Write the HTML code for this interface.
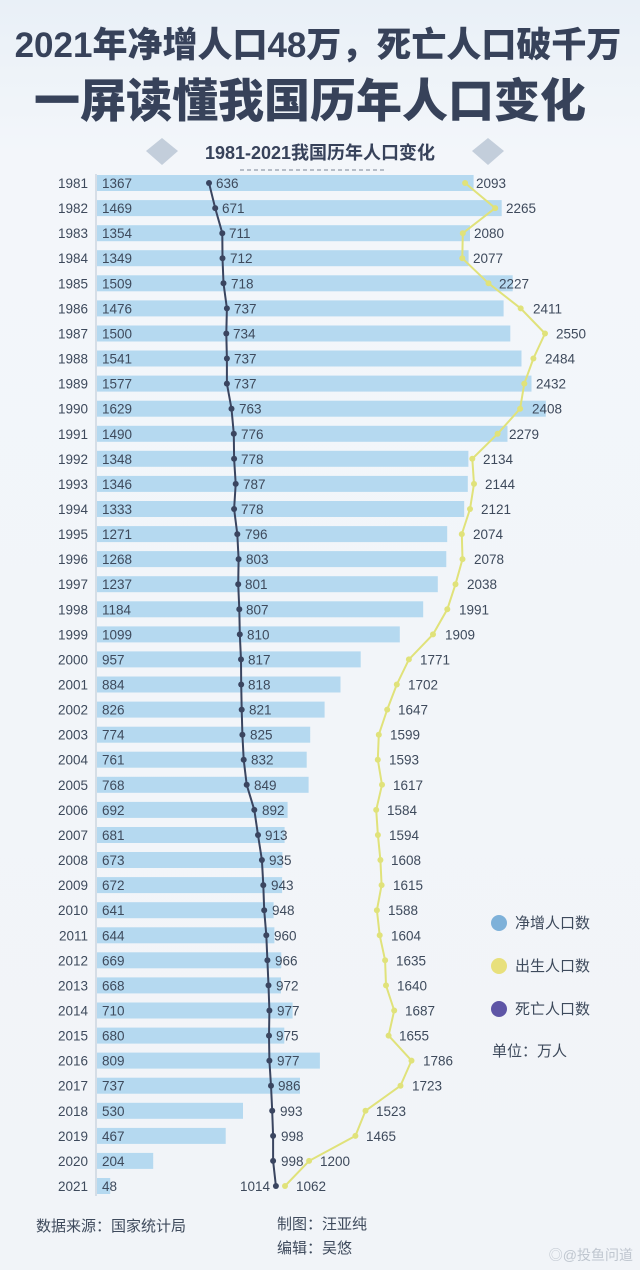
<!DOCTYPE html>
<html><head><meta charset="utf-8"><style>
html,body{margin:0;padding:0;width:640px;height:1270px;overflow:hidden;background:#eef2f7}
svg text{font-family:"Liberation Sans","Noto Sans CJK SC",sans-serif}
</style></head><body>
<svg width="640" height="1270" xmlns="http://www.w3.org/2000/svg">
<defs><linearGradient id="bg" x1="0" y1="0" x2="0" y2="1"><stop offset="0" stop-color="#e9f0f7"/><stop offset="0.12" stop-color="#f3f6fa"/><stop offset="1" stop-color="#f1f4f8"/></linearGradient></defs>
<rect width="640" height="1270" fill="url(#bg)"/>
<text x="318" y="57" text-anchor="middle" font-size="35" font-weight="900" fill="#37425a">2021年净增人口48万，死亡人口破千万</text>
<text x="310" y="117" text-anchor="middle" font-size="46" font-weight="900" fill="#37425a">一屏读懂我国历年人口变化</text>
<polygon points="162,138 178,151 162,165 146,151" fill="#c3cedb"/>
<polygon points="488,138 504,151 488,165 472,151" fill="#c3cedb"/>
<text x="320" y="159" text-anchor="middle" font-size="18" font-weight="bold" fill="#37425a">1981-2021我国历年人口变化</text>
<line x1="240" y1="170" x2="385" y2="170" stroke="#7a8494" stroke-dasharray="4,3"/>
<line x1="96" y1="174" x2="96" y2="1196" stroke="#b8c6d4"/>
<g fill="#b5d9f0">
<rect x="97" y="175" width="376.6" height="16"/><rect x="97" y="200.1" width="404.7" height="16"/><rect x="97" y="225.2" width="373" height="16"/><rect x="97" y="250.2" width="371.6" height="16"/><rect x="97" y="275.3" width="415.7" height="16"/><rect x="97" y="300.4" width="406.6" height="16"/><rect x="97" y="325.5" width="413.3" height="16"/><rect x="97" y="350.5" width="424.5" height="16"/><rect x="97" y="375.6" width="434.5" height="16"/><rect x="97" y="400.7" width="448.8" height="16"/><rect x="97" y="425.8" width="410.5" height="16"/><rect x="97" y="450.8" width="371.4" height="16"/><rect x="97" y="475.9" width="370.8" height="16"/><rect x="97" y="501" width="367.2" height="16"/><rect x="97" y="526.1" width="350.2" height="16"/><rect x="97" y="551.1" width="349.3" height="16"/><rect x="97" y="576.2" width="340.8" height="16"/><rect x="97" y="601.3" width="326.2" height="16"/><rect x="97" y="626.4" width="302.8" height="16"/><rect x="97" y="651.4" width="263.7" height="16"/><rect x="97" y="676.5" width="243.5" height="16"/><rect x="97" y="701.6" width="227.6" height="16"/><rect x="97" y="726.7" width="213.2" height="16"/><rect x="97" y="751.7" width="209.7" height="16"/><rect x="97" y="776.8" width="211.6" height="16"/><rect x="97" y="801.9" width="190.6" height="16"/><rect x="97" y="827" width="187.6" height="16"/><rect x="97" y="852" width="185.4" height="16"/><rect x="97" y="877.1" width="185.1" height="16"/><rect x="97" y="902.2" width="176.6" height="16"/><rect x="97" y="927.3" width="177.4" height="16"/><rect x="97" y="952.3" width="184.3" height="16"/><rect x="97" y="977.4" width="184" height="16"/><rect x="97" y="1002.5" width="195.6" height="16"/><rect x="97" y="1027.6" width="187.3" height="16"/><rect x="97" y="1052.6" width="222.9" height="16"/><rect x="97" y="1077.7" width="203" height="16"/><rect x="97" y="1102.8" width="146" height="16"/><rect x="97" y="1127.9" width="128.7" height="16"/><rect x="97" y="1152.9" width="56.2" height="16"/><rect x="97" y="1178" width="13.2" height="16"/>
</g>
<g font-size="13.5" fill="#3e4a5c" text-anchor="end">
<text x="88" y="188">1981</text><text x="88" y="213.1">1982</text><text x="88" y="238.2">1983</text><text x="88" y="263.2">1984</text><text x="88" y="288.3">1985</text><text x="88" y="313.4">1986</text><text x="88" y="338.5">1987</text><text x="88" y="363.5">1988</text><text x="88" y="388.6">1989</text><text x="88" y="413.7">1990</text><text x="88" y="438.8">1991</text><text x="88" y="463.8">1992</text><text x="88" y="488.9">1993</text><text x="88" y="514">1994</text><text x="88" y="539.1">1995</text><text x="88" y="564.1">1996</text><text x="88" y="589.2">1997</text><text x="88" y="614.3">1998</text><text x="88" y="639.4">1999</text><text x="88" y="664.4">2000</text><text x="88" y="689.5">2001</text><text x="88" y="714.6">2002</text><text x="88" y="739.7">2003</text><text x="88" y="764.7">2004</text><text x="88" y="789.8">2005</text><text x="88" y="814.9">2006</text><text x="88" y="840">2007</text><text x="88" y="865">2008</text><text x="88" y="890.1">2009</text><text x="88" y="915.2">2010</text><text x="88" y="940.3">2011</text><text x="88" y="965.3">2012</text><text x="88" y="990.4">2013</text><text x="88" y="1015.5">2014</text><text x="88" y="1040.6">2015</text><text x="88" y="1065.6">2016</text><text x="88" y="1090.7">2017</text><text x="88" y="1115.8">2018</text><text x="88" y="1140.9">2019</text><text x="88" y="1165.9">2020</text><text x="88" y="1191">2021</text>
</g>
<g font-size="13.5" fill="#3e4a5c">
<text x="102" y="188">1367</text><text x="102" y="213.1">1469</text><text x="102" y="238.2">1354</text><text x="102" y="263.2">1349</text><text x="102" y="288.3">1509</text><text x="102" y="313.4">1476</text><text x="102" y="338.5">1500</text><text x="102" y="363.5">1541</text><text x="102" y="388.6">1577</text><text x="102" y="413.7">1629</text><text x="102" y="438.8">1490</text><text x="102" y="463.8">1348</text><text x="102" y="488.9">1346</text><text x="102" y="514">1333</text><text x="102" y="539.1">1271</text><text x="102" y="564.1">1268</text><text x="102" y="589.2">1237</text><text x="102" y="614.3">1184</text><text x="102" y="639.4">1099</text><text x="102" y="664.4">957</text><text x="102" y="689.5">884</text><text x="102" y="714.6">826</text><text x="102" y="739.7">774</text><text x="102" y="764.7">761</text><text x="102" y="789.8">768</text><text x="102" y="814.9">692</text><text x="102" y="840">681</text><text x="102" y="865">673</text><text x="102" y="890.1">672</text><text x="102" y="915.2">641</text><text x="102" y="940.3">644</text><text x="102" y="965.3">669</text><text x="102" y="990.4">668</text><text x="102" y="1015.5">710</text><text x="102" y="1040.6">680</text><text x="102" y="1065.6">809</text><text x="102" y="1090.7">737</text><text x="102" y="1115.8">530</text><text x="102" y="1140.9">467</text><text x="102" y="1165.9">204</text><text x="102" y="1191">48</text>
</g>
<polyline fill="none" stroke="#e0e27a" stroke-width="2" points="465.1,183 495.2,208.1 462.8,233.2 462.3,258.2 488.5,283.3 520.7,308.4 545,333.5 533.4,358.5 524.3,383.6 520.1,408.7 497.6,433.8 472.3,458.8 474,483.9 470,509 461.8,534.1 462.5,559.1 455.5,584.2 447.3,609.3 433,634.4 408.9,659.4 396.8,684.5 387.2,709.6 378.8,734.7 377.8,759.7 382,784.8 376.2,809.9 377.9,835 380.4,860 381.6,885.1 376.9,910.2 379.7,935.3 385.1,960.3 386,985.4 394.2,1010.5 388.6,1035.6 411.5,1060.6 400.5,1085.7 365.5,1110.8 355.4,1135.9 309.1,1160.9 285,1186"/>
<g fill="#e0e27a">
<circle cx="465.1" cy="183" r="3"/><circle cx="495.2" cy="208.1" r="3"/><circle cx="462.8" cy="233.2" r="3"/><circle cx="462.3" cy="258.2" r="3"/><circle cx="488.5" cy="283.3" r="3"/><circle cx="520.7" cy="308.4" r="3"/><circle cx="545" cy="333.5" r="3"/><circle cx="533.4" cy="358.5" r="3"/><circle cx="524.3" cy="383.6" r="3"/><circle cx="520.1" cy="408.7" r="3"/><circle cx="497.6" cy="433.8" r="3"/><circle cx="472.3" cy="458.8" r="3"/><circle cx="474" cy="483.9" r="3"/><circle cx="470" cy="509" r="3"/><circle cx="461.8" cy="534.1" r="3"/><circle cx="462.5" cy="559.1" r="3"/><circle cx="455.5" cy="584.2" r="3"/><circle cx="447.3" cy="609.3" r="3"/><circle cx="433" cy="634.4" r="3"/><circle cx="408.9" cy="659.4" r="3"/><circle cx="396.8" cy="684.5" r="3"/><circle cx="387.2" cy="709.6" r="3"/><circle cx="378.8" cy="734.7" r="3"/><circle cx="377.8" cy="759.7" r="3"/><circle cx="382" cy="784.8" r="3"/><circle cx="376.2" cy="809.9" r="3"/><circle cx="377.9" cy="835" r="3"/><circle cx="380.4" cy="860" r="3"/><circle cx="381.6" cy="885.1" r="3"/><circle cx="376.9" cy="910.2" r="3"/><circle cx="379.7" cy="935.3" r="3"/><circle cx="385.1" cy="960.3" r="3"/><circle cx="386" cy="985.4" r="3"/><circle cx="394.2" cy="1010.5" r="3"/><circle cx="388.6" cy="1035.6" r="3"/><circle cx="411.5" cy="1060.6" r="3"/><circle cx="400.5" cy="1085.7" r="3"/><circle cx="365.5" cy="1110.8" r="3"/><circle cx="355.4" cy="1135.9" r="3"/><circle cx="309.1" cy="1160.9" r="3"/><circle cx="285" cy="1186" r="3"/>
</g>
<g font-size="13.5" fill="#3e4a5c">
<text x="476" y="188">2093</text><text x="506" y="213.1">2265</text><text x="474" y="238.2">2080</text><text x="473" y="263.2">2077</text><text x="499" y="288.3">2227</text><text x="533" y="313.4">2411</text><text x="556" y="338.5">2550</text><text x="545" y="363.5">2484</text><text x="536" y="388.6">2432</text><text x="532" y="413.7">2408</text><text x="509" y="438.8">2279</text><text x="483" y="463.8">2134</text><text x="485" y="488.9">2144</text><text x="481" y="514">2121</text><text x="473" y="539.1">2074</text><text x="474" y="564.1">2078</text><text x="467" y="589.2">2038</text><text x="459" y="614.3">1991</text><text x="445" y="639.4">1909</text><text x="420" y="664.4">1771</text><text x="408" y="689.5">1702</text><text x="398" y="714.6">1647</text><text x="390" y="739.7">1599</text><text x="389" y="764.7">1593</text><text x="393" y="789.8">1617</text><text x="387" y="814.9">1584</text><text x="389" y="840">1594</text><text x="391" y="865">1608</text><text x="393" y="890.1">1615</text><text x="388" y="915.2">1588</text><text x="391" y="940.3">1604</text><text x="396" y="965.3">1635</text><text x="397" y="990.4">1640</text><text x="405" y="1015.5">1687</text><text x="399" y="1040.6">1655</text><text x="423" y="1065.6">1786</text><text x="412" y="1090.7">1723</text><text x="376" y="1115.8">1523</text><text x="366" y="1140.9">1465</text><text x="320" y="1165.9">1200</text><text x="296" y="1191">1062</text>
</g>
<polyline fill="none" stroke="#3a4560" stroke-width="2" points="209,183 215.2,208.1 222.3,233.2 222.5,258.2 223.5,283.3 226.9,308.4 226.3,333.5 226.9,358.5 226.9,383.6 231.5,408.7 233.8,433.8 234.1,458.8 235.7,483.9 234.1,509 237.3,534.1 238.6,559.1 238.2,584.2 239.3,609.3 239.8,634.4 241,659.4 241.2,684.5 241.7,709.6 242.4,734.7 243.7,759.7 246.7,784.8 254.3,809.9 258,835 261.9,860 263.3,885.1 264.2,910.2 266.3,935.3 267.4,960.3 268.5,985.4 269.4,1010.5 269,1035.6 269.4,1060.6 271,1085.7 272.2,1110.8 273.1,1135.9 273.1,1160.9 275.9,1186"/>
<g fill="#3a4560">
<circle cx="209" cy="183" r="3"/><circle cx="215.2" cy="208.1" r="3"/><circle cx="222.3" cy="233.2" r="3"/><circle cx="222.5" cy="258.2" r="3"/><circle cx="223.5" cy="283.3" r="3"/><circle cx="226.9" cy="308.4" r="3"/><circle cx="226.3" cy="333.5" r="3"/><circle cx="226.9" cy="358.5" r="3"/><circle cx="226.9" cy="383.6" r="3"/><circle cx="231.5" cy="408.7" r="3"/><circle cx="233.8" cy="433.8" r="3"/><circle cx="234.1" cy="458.8" r="3"/><circle cx="235.7" cy="483.9" r="3"/><circle cx="234.1" cy="509" r="3"/><circle cx="237.3" cy="534.1" r="3"/><circle cx="238.6" cy="559.1" r="3"/><circle cx="238.2" cy="584.2" r="3"/><circle cx="239.3" cy="609.3" r="3"/><circle cx="239.8" cy="634.4" r="3"/><circle cx="241" cy="659.4" r="3"/><circle cx="241.2" cy="684.5" r="3"/><circle cx="241.7" cy="709.6" r="3"/><circle cx="242.4" cy="734.7" r="3"/><circle cx="243.7" cy="759.7" r="3"/><circle cx="246.7" cy="784.8" r="3"/><circle cx="254.3" cy="809.9" r="3"/><circle cx="258" cy="835" r="3"/><circle cx="261.9" cy="860" r="3"/><circle cx="263.3" cy="885.1" r="3"/><circle cx="264.2" cy="910.2" r="3"/><circle cx="266.3" cy="935.3" r="3"/><circle cx="267.4" cy="960.3" r="3"/><circle cx="268.5" cy="985.4" r="3"/><circle cx="269.4" cy="1010.5" r="3"/><circle cx="269" cy="1035.6" r="3"/><circle cx="269.4" cy="1060.6" r="3"/><circle cx="271" cy="1085.7" r="3"/><circle cx="272.2" cy="1110.8" r="3"/><circle cx="273.1" cy="1135.9" r="3"/><circle cx="273.1" cy="1160.9" r="3"/><circle cx="275.9" cy="1186" r="3"/>
</g>
<g font-size="13.5" fill="#3e4a5c">
<text x="216" y="188">636</text><text x="222" y="213.1">671</text><text x="229" y="238.2">711</text><text x="230" y="263.2">712</text><text x="231" y="288.3">718</text><text x="234" y="313.4">737</text><text x="233" y="338.5">734</text><text x="234" y="363.5">737</text><text x="234" y="388.6">737</text><text x="239" y="413.7">763</text><text x="241" y="438.8">776</text><text x="241" y="463.8">778</text><text x="243" y="488.9">787</text><text x="241" y="514">778</text><text x="245" y="539.1">796</text><text x="246" y="564.1">803</text><text x="245" y="589.2">801</text><text x="246" y="614.3">807</text><text x="247" y="639.4">810</text><text x="248" y="664.4">817</text><text x="248" y="689.5">818</text><text x="249" y="714.6">821</text><text x="250" y="739.7">825</text><text x="251" y="764.7">832</text><text x="254" y="789.8">849</text><text x="262" y="814.9">892</text><text x="265" y="840">913</text><text x="269" y="865">935</text><text x="271" y="890.1">943</text><text x="272" y="915.2">948</text><text x="274" y="940.3">960</text><text x="275" y="965.3">966</text><text x="276" y="990.4">972</text><text x="277" y="1015.5">977</text><text x="276" y="1040.6">975</text><text x="277" y="1065.6">977</text><text x="278" y="1090.7">986</text><text x="280" y="1115.8">993</text><text x="281" y="1140.9">998</text><text x="281" y="1165.9">998</text><text x="270" y="1191" text-anchor="end">1014</text>
</g>
<circle cx="499" cy="923" r="8" fill="#7eb1d9"/>
<circle cx="499" cy="966" r="8" fill="#e8e07c"/>
<circle cx="499" cy="1009" r="8" fill="#5e55a6"/>
<g font-size="15" fill="#3e4a5c">
<text x="515" y="928">净增人口数</text>
<text x="515" y="971">出生人口数</text>
<text x="515" y="1014">死亡人口数</text>
<text x="492" y="1056">单位：万人</text>
<text x="36" y="1231">数据来源：国家统计局</text>
<text x="277" y="1229">制图：汪亚纯</text>
<text x="277" y="1253">编辑：吴悠</text>
</g>
<text x="633" y="1260" text-anchor="end" font-size="14" fill="#bfc6cf">◎@投鱼问道</text>
</svg>
</body></html>
